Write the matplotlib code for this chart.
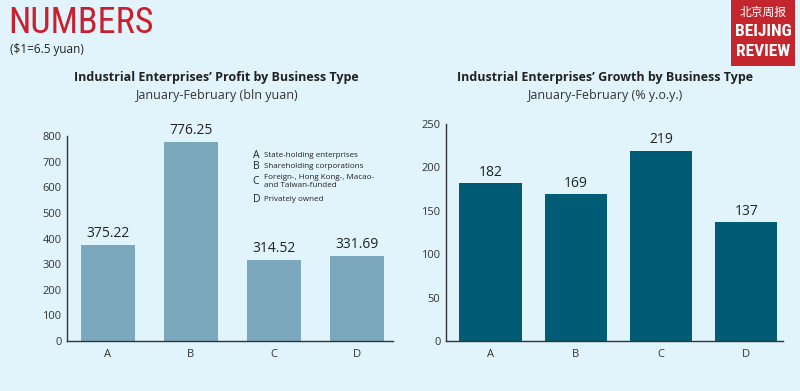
import matplotlib
matplotlib.use("Agg")
import matplotlib.pyplot as plt
from matplotlib.patches import Rectangle
from matplotlib import font_manager as fm

plt.rcParams['font.family'] = ['Open Sans', 'DejaVu Sans']

categories = ["A", "B", "C", "D"]
profit = [375.22, 776.25, 314.52, 331.69]
growth = [182, 169, 219, 137]
profit_labels = ["375.22", "776.25", "314.52", "331.69"]
growth_labels = ["182", "169", "219", "137"]
profit_ticks = [0, 100, 200, 300, 400, 500, 600, 700, 800]
growth_ticks = [0, 50, 100, 150, 200, 250]
legend_items = [("A", "State-holding enterprises"),
                ("B", "Shareholding corporations"),
                ("C", "Foreign-, Hong Kong-, Macao-\nand Taiwan-funded"),
                ("D", "Privately owned")]

bg = "#e1f4fc"
c_left = "#7ba8bd"
c_right = "#005b74"
txt = "#222222"

names = {f.name for f in fm.fontManager.ttflist}
cond = None
for cand in ["DejaVu Sans Condensed", "Liberation Sans Narrow", "Roboto Condensed", "Open Sans Condensed"]:
    if cand in names:
        cond = cand
        break

fig = plt.figure(figsize=(8, 3.91), dpi=100, facecolor=bg)

def style(ax, ticks):
    ax.set_facecolor(bg)
    for s in ["top", "right"]:
        ax.spines[s].set_visible(False)
    for s in ["left", "bottom"]:
        ax.spines[s].set_color("#333333")
        ax.spines[s].set_linewidth(1.0)
    ax.set_yticks(ticks)
    ax.tick_params(axis="both", length=0, labelsize=8, colors="#333333")
    ax.tick_params(axis="y", pad=4)
    ax.tick_params(axis="x", pad=6)

H = 391.0
W = 800.0
axl = fig.add_axes([67 / W, 1 - 341 / H, (393 - 67) / W, (341 - 136) / H])
x = range(len(categories))
axl.bar(x, profit, width=0.65, color=c_left)
axl.set_xticks(list(x))
axl.set_xticklabels(categories)
axl.set_ylim(0, 800)
axl.set_xlim(-0.49, 3.43)
style(axl, profit_ticks)
for i, (v, l) in enumerate(zip(profit, profit_labels)):
    axl.text(i, v + 16, l, ha="center", va="bottom", fontsize=10, color=txt)

for j, (k, t) in enumerate(legend_items):
    ys = [0.905, 0.851, 0.78, 0.69][j]
    axl.text(0.57, ys, k, transform=axl.transAxes, fontsize=7.5, color=txt, va="center", ha="left")
    axl.text(0.605, ys, t, transform=axl.transAxes, fontsize=5.8, color=txt, va="center", ha="left",
             linespacing=1.2)

axr = fig.add_axes([446 / W, 1 - 341 / H, (783 - 446) / W, (341 - 124) / H])
axr.bar(x, growth, width=0.73, color=c_right)
axr.set_xticks(list(x))
axr.set_xticklabels(categories)
axr.set_ylim(0, 250)
axr.set_xlim(-0.52, 3.43)
style(axr, growth_ticks)
for i, (v, l) in enumerate(zip(growth, growth_labels)):
    axr.text(i, v + 4, l, ha="center", va="bottom", fontsize=10, color=txt)

fig.text(216 / W, 1 - 77 / H, "Industrial Enterprises\u2019 Profit by Business Type",
         ha="center", va="center", fontsize=9, fontweight="bold", color=txt)
fig.text(216 / W, 1 - 96 / H, "January-February (bln yuan)",
         ha="center", va="center", fontsize=9, color="#333333")
fig.text(605 / W, 1 - 77 / H, "Industrial Enterprises\u2019 Growth by Business Type",
         ha="center", va="center", fontsize=9, fontweight="bold", color=txt)
fig.text(605 / W, 1 - 96 / H, "January-February (% y.o.y.)",
         ha="center", va="center", fontsize=9, color="#333333")

head_fam = [cond, "DejaVu Sans"] if cond else ["DejaVu Sans"]
fig.text(8 / W, 1 - 23 / H, "NUMBERS", ha="left", va="center", fontsize=26,
         color="#c8202f", family=head_fam, fontstretch="condensed")
fig.text(10 / W, 1 - 50 / H, "($1=6.5 yuan)", ha="left", va="center", fontsize=8.5, color=txt)

fig.patches.append(Rectangle((731 / W, 1 - 66 / H), 64 / W, 66 / H,
                             transform=fig.transFigure, facecolor="#c4262e", edgecolor="none"))
fig.text(763 / W, 1 - 12 / H, "北京周报", ha="center", va="center", fontsize=8.5,
         color="white", family=["Noto Sans CJK SC", "DejaVu Sans"])
fig.text(763 / W, 1 - 32 / H, "BEIJING", ha="center", va="center", fontsize=12.5,
         color="white", fontweight="bold", family=head_fam, fontstretch="condensed")
fig.text(763 / W, 1 - 52 / H, "REVIEW", ha="center", va="center", fontsize=12.5,
         color="white", fontweight="bold", family=head_fam, fontstretch="condensed")

fig.savefig("out.png", dpi=100, facecolor=bg)
